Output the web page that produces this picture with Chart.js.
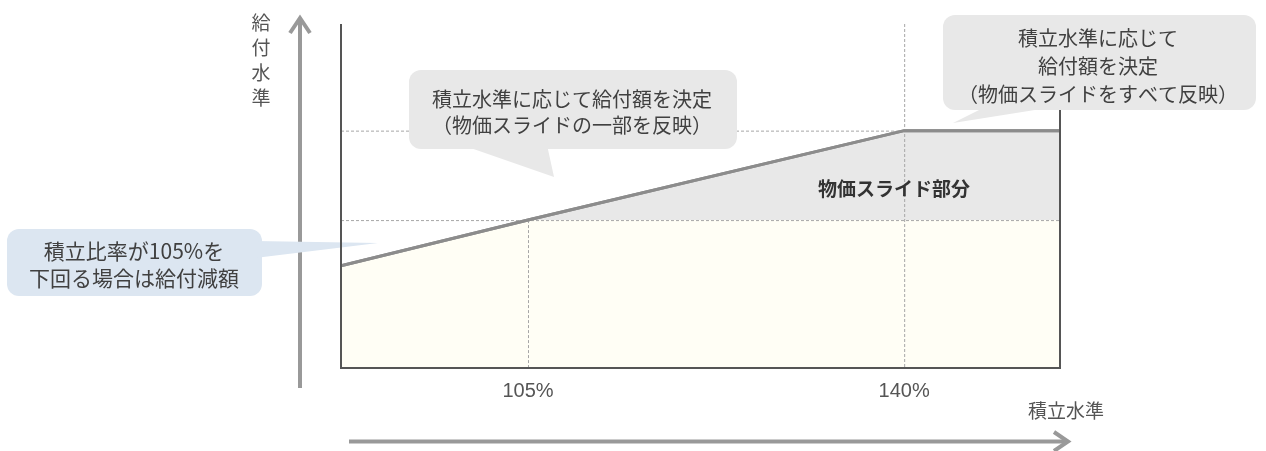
<!DOCTYPE html>
<html lang="ja">
<head>
<meta charset="UTF-8">
<title>積立水準と給付水準</title>
<script src="https://cdn.jsdelivr.net/npm/chart.js@4/dist/chart.umd.min.js"></script>
<style>
  body { margin: 0; background: #fff; }
  canvas { display: block; }
</style>
</head>
<body>
<canvas id="benefitChart" width="1266" height="451"></canvas>
<script>
// 積立水準 (%) と給付水準 (相対値)
const fundingLevel = [87.6, 105, 140, 154.5];
const benefitLevel = [29.7, 43, 69, 69];
const baseLevel = 43;     // 物価スライドなしの給付水準
const capLevel = 69;      // 物価スライドをすべて反映した水準
const xTickValues = [105, 140];
const xTickLabels = ['105%', '140%'];

const JP_FONT = '"Noto Sans CJK JP", "Noto Sans", sans-serif';
const TEXT_COLOR = '#404040';

const linePoints = fundingLevel.map((x, i) => ({ x: x, y: benefitLevel[i] }));
// 給付水準のうち基本部分（基準水準まで）
const basePoints = fundingLevel.map((x, i) => ({ x: x, y: Math.min(benefitLevel[i], baseLevel) }));

function roundRectPath(ctx, x, y, w, h, r) {
  ctx.moveTo(x + r, y);
  ctx.lineTo(x + w - r, y);
  ctx.arcTo(x + w, y, x + w, y + r, r);
  ctx.lineTo(x + w, y + h - r);
  ctx.arcTo(x + w, y + h, x + w - r, y + h, r);
  ctx.lineTo(x + r, y + h);
  ctx.arcTo(x, y + h, x, y + h - r, r);
  ctx.lineTo(x, y + r);
  ctx.arcTo(x, y, x + r, y, r);
  ctx.closePath();
}

function drawCallout(ctx, box, tail, fill, lines, cx, firstY, lineGap, size) {
  ctx.save();
  ctx.fillStyle = fill;
  ctx.beginPath();
  roundRectPath(ctx, box[0], box[1], box[2], box[3], 12);
  ctx.fill();
  ctx.beginPath();
  ctx.moveTo(tail[0][0], tail[0][1]);
  ctx.lineTo(tail[1][0], tail[1][1]);
  ctx.lineTo(tail[2][0], tail[2][1]);
  ctx.closePath();
  ctx.fill();
  ctx.fillStyle = TEXT_COLOR;
  ctx.font = (size || 20) + 'px ' + JP_FONT;
  ctx.textAlign = 'center';
  ctx.textBaseline = 'middle';
  lines.forEach((t, i) => ctx.fillText(t, cx, firstY + i * lineGap));
  ctx.restore();
}

function strokeSegment(ctx, x1, y1, x2, y2) {
  ctx.beginPath();
  ctx.moveTo(x1, y1);
  ctx.lineTo(x2, y2);
  ctx.stroke();
}

const diagramPlugin = {
  id: 'diagram',
  afterDatasetsDraw(chart) {
    const ctx = chart.ctx;
    const xs = chart.scales.x;
    const ys = chart.scales.y;
    const area = chart.chartArea;

    const yBase = ys.getPixelForValue(baseLevel);
    const yCap = ys.getPixelForValue(capLevel);
    const x105 = xs.getPixelForValue(xTickValues[0]);
    const x140 = xs.getPixelForValue(xTickValues[1]);

    // 補助線（破線）
    ctx.save();
    ctx.strokeStyle = '#a6a6a6';
    ctx.lineWidth = 1;
    ctx.setLineDash([3, 2]);
    strokeSegment(ctx, area.left, yBase + 0.5, area.right, yBase + 0.5);
    strokeSegment(ctx, area.left, yCap + 0.5, x140, yCap + 0.5);
    strokeSegment(ctx, x105 + 0.5, yBase, x105 + 0.5, area.bottom);
    strokeSegment(ctx, x140 + 0.5, area.top, x140 + 0.5, area.bottom);
    ctx.restore();

    // 折れ線を補助線の上に描き直す
    const meta = chart.getDatasetMeta(0);
    ctx.save();
    ctx.strokeStyle = '#8c8c8c';
    ctx.lineWidth = 3;
    ctx.beginPath();
    meta.data.forEach((p, i) => i ? ctx.lineTo(p.x, p.y) : ctx.moveTo(p.x, p.y));
    ctx.stroke();
    ctx.restore();

    // 物価スライド部分
    ctx.save();
    ctx.fillStyle = '#333';
    ctx.font = 'bold 19px ' + JP_FONT;
    ctx.textAlign = 'center';
    ctx.textBaseline = 'middle';
    ctx.fillText('物価スライド部分', 894, 189);
    ctx.restore();

    // 軸の矢印
    ctx.save();
    ctx.strokeStyle = '#999';
    ctx.lineWidth = 4;
    strokeSegment(ctx, 300, 388, 300, 18);
    ctx.beginPath();
    ctx.moveTo(290, 33); ctx.lineTo(300, 18); ctx.lineTo(310, 33);
    ctx.stroke();
    strokeSegment(ctx, 349, 441.5, 1066, 441.5);
    ctx.beginPath();
    ctx.moveTo(1054, 432); ctx.lineTo(1068, 441.5); ctx.lineTo(1054, 451);
    ctx.stroke();
    ctx.restore();

    // 軸ラベル
    ctx.save();
    ctx.fillStyle = '#555';
    ctx.font = '19px ' + JP_FONT;
    ctx.textAlign = 'center';
    ctx.textBaseline = 'middle';
    ['給', '付', '水', '準'].forEach((c, i) => ctx.fillText(c, 261, 23 + i * 25));
    ctx.fillText('積立水準', 1066, 411);
    ctx.font = '20px "Liberation Sans Narrow", "Liberation Sans", sans-serif';
    xTickValues.forEach((v, i) => ctx.fillText(xTickLabels[i], xs.getPixelForValue(v), 391));
    ctx.restore();

    // 吹き出し（左）
    drawCallout(ctx, [7, 229, 255, 67], [[255, 241], [378, 243], [255, 258]], '#dce6f1',
      ['積立比率が105%を', '下回る場合は給付減額'], 134, 251, 27, 21);

    // 枠線
    ctx.save();
    ctx.strokeStyle = '#555';
    ctx.lineWidth = 2;
    ctx.beginPath();
    ctx.moveTo(area.left, area.top);
    ctx.lineTo(area.left, area.bottom);
    ctx.lineTo(area.right, area.bottom);
    ctx.lineTo(area.right, area.top);
    ctx.stroke();
    ctx.restore();

    // 吹き出し（中央・右）
    drawCallout(ctx, [409, 70, 328, 79], [[462, 145], [554, 177], [547, 145]], '#e8e8e8',
      ['積立水準に応じて給付額を決定', '（物価スライドの一部を反映）'], 572, 99, 26);
    drawCallout(ctx, [943, 15, 313, 95], [[987, 106], [953, 123], [1060, 106]], '#e8e8e8',
      ['積立水準に応じて', '給付額を決定', '（物価スライドをすべて反映）'], 1098, 38, 28);
  }
};

new Chart('benefitChart', {
  type: 'line',
  data: {
    datasets: [
      {
        label: '給付水準',
        data: linePoints,
        borderColor: '#8c8c8c',
        borderWidth: 3,
        pointRadius: 0,
        tension: 0,
        fill: { target: { value: baseLevel }, above: '#e8e8e8', below: 'rgba(0,0,0,0)' }
      },
      {
        label: '基本部分',
        data: basePoints,
        borderWidth: 0,
        borderColor: 'rgba(0,0,0,0)',
        pointRadius: 0,
        tension: 0,
        backgroundColor: '#fffef5',
        fill: 'origin'
      }
    ]
  },
  options: {
    responsive: false,
    animation: false,
    devicePixelRatio: 1,
    layout: { padding: { left: 341, right: 206, top: 24, bottom: 83 } },
    scales: {
      x: { type: 'linear', min: 87.6, max: 154.5, display: false },
      y: { min: 0, max: 100, display: false }
    },
    plugins: {
      legend: { display: false },
      tooltip: { enabled: false }
    }
  },
  plugins: [diagramPlugin]
});
</script>
</body>
</html>
